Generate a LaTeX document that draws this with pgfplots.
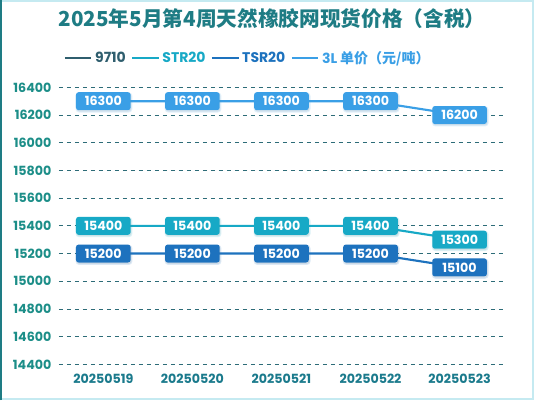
\documentclass[border=0pt]{standalone}
\usepackage{pgfplots}
\pgfplotsset{compat=1.18}
\usepackage{fontspec}
\setmainfont{Poppins}
\newfontfamily\cjk{Noto Sans CJK SC}
\usetikzlibrary{shadows}
\definecolor{c9710}{HTML}{2F5E6E}
\definecolor{cstr}{HTML}{17A9C6}
\definecolor{ctsr}{HTML}{1D72BE}
\definecolor{cthree}{HTML}{3A9FE6}
\definecolor{ctick}{HTML}{1C8E88}
\definecolor{cxtick}{HTML}{1A7A8C}
\definecolor{cgrid}{HTML}{2D6C78}
\definecolor{ctitle}{HTML}{1E7C84}
\begin{document}
\begin{tikzpicture}[x=0.75pt,y=0.75pt]
\useasboundingbox (0,0) rectangle (534,400);
\path[fill=white] (0,0) rectangle (534,400);
\draw[draw=cstr!25,line width=1.5pt] (0.75,0.75) rectangle (533.25,399.25);
\draw[draw=ctitle,line width=1.5pt] (0.75,0) -- (0.75,400);
\node[font=\cjk\bfseries\fontsize{15.5}{17}\selectfont,text=ctitle] at (272,381) {2025年5月第4周天然橡胶网现货价格（含税）};
\begin{axis}[
  at={(66,25.75)},anchor=south west,
  scale only axis,width=334pt,height=207.75pt,
  xmin=-0.5,xmax=4.5,ymin=14400,ymax=16400,
  xtick={0,1,2,3,4},
  xticklabels={20250519,20250520,20250521,20250522,20250523},
  ytick={14600,14800,15000,15200,15400,15600,15800,16000,16200,16400},
  scaled y ticks=false,
  yticklabel={\pgfmathprintnumber[fixed,precision=0,1000 sep={}]{\tick}},
  extra y ticks={14400},
  extra y tick style={grid style={draw=black!15,dashed}},
  axis line style={draw=none},tick style={draw=none},
  ymajorgrids,major grid style={draw=cgrid,dashed,line width=0.6pt},
  /pgf/number format/assume math mode=true,
  /pgf/number format/1000 sep={},
  yticklabel style={font=\bfseries\fontsize{9.5}{11}\selectfont,text=ctick,xshift=-2pt},
  xticklabel style={font=\bfseries\fontsize{9.5}{11}\selectfont,text=cxtick,yshift=-4pt},
  legend columns=4,
  legend style={draw=none,fill=none,at={(0.425,1)},anchor=center,yshift=22pt,
    font=\bfseries\fontsize{10.5}{12}\selectfont,
    /tikz/every even column/.append style={column sep=2pt}},
  legend image code/.code={\draw[#1,line width=1.6pt] (0,0) -- (0.7cm,0);},
  clip=false,
  nodes near coords,
  point meta=explicit symbolic,
  every node near coord/.style={anchor=center,text=white,
    font=\bfseries\fontsize{9.5}{11}\selectfont,rounded corners=2pt,
    minimum width=41pt,minimum height=13.5pt,inner sep=1pt,
    drop shadow={opacity=0.15,shadow xshift=0.5pt,shadow yshift=-1pt}},
]
\addlegendimage{c9710}
\addlegendentry{\textcolor{c9710}{9710}}
\addplot[cstr,line width=1.6pt,
  every node near coord/.append style={fill=cstr}]
  coordinates {(0,15400)[15400] (1,15400)[15400] (2,15400)[15400] (3,15400)[15400] (4,15300)[15300]};
\addlegendentry{\textcolor{cstr}{STR20}}
\addplot[ctsr,line width=1.6pt,
  every node near coord/.append style={fill=ctsr}]
  coordinates {(0,15200)[15200] (1,15200)[15200] (2,15200)[15200] (3,15200)[15200] (4,15100)[15100]};
\addlegendentry{\textcolor{ctsr}{TSR20}}
\addplot[cthree,line width=1.6pt,
  every node near coord/.append style={fill=cthree}]
  coordinates {(0,16300)[16300] (1,16300)[16300] (2,16300)[16300] (3,16300)[16300] (4,16200)[16200]};
\addlegendentry{\textcolor{cthree}{3L {\cjk 单价（元/吨）}}}
\end{axis}
\end{tikzpicture}
\end{document}
